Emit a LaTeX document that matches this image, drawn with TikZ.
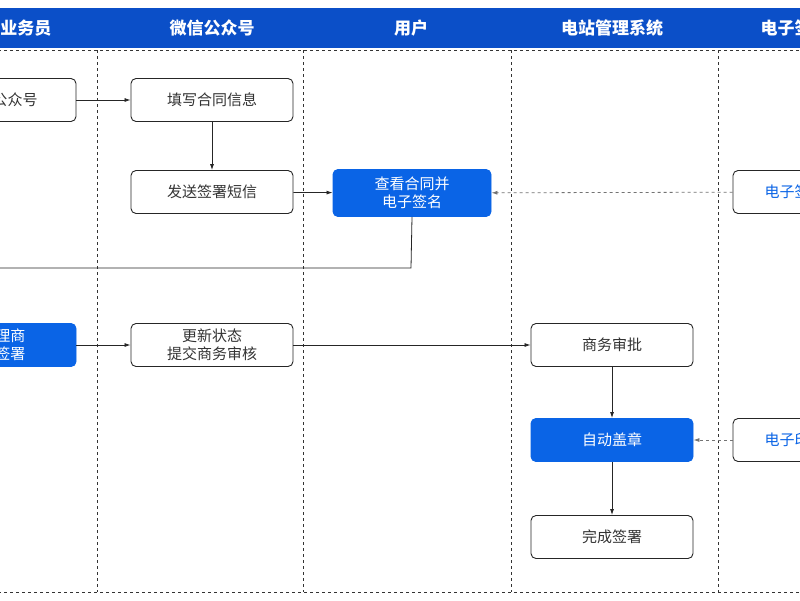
\documentclass[tikz,border=0pt]{standalone}
\usepackage{fontspec}
\setmainfont{Noto Sans CJK SC}
\usetikzlibrary{arrows.meta}
\definecolor{hdr}{HTML}{0B4FC8}
\definecolor{bl}{HTML}{0A64E6}
\definecolor{tx}{HTML}{333333}
\begin{document}
\begin{tikzpicture}[x=1pt,y=-1pt,
 box/.style={draw=black!85,line width=0.9pt,rounded corners=5pt,minimum width=162pt,minimum height=43pt,font=\fontsize{15}{18}\selectfont,text=tx,align=center,inner sep=0pt},
 bbox/.style={box,fill=bl,draw=bl,text=white},
 ar/.style={-{Latex[length=6pt,width=4pt]},line width=0.8pt,black!85},
 dar/.style={ar,dashed,black!55},
 lane/.style={dashed,line width=0.8pt,black!80},
 hd/.style={font=\fontsize{17}{20}\selectfont\bfseries,text=white}]
\useasboundingbox (0,0) rectangle (800,600);
\clip (0,0) rectangle (800,600);
\fill[white] (0,0) rectangle (800,600);
\fill[hdr] (-20,8) rectangle (820,48);
\node[hd] (h1) at (26,28) {业务员};
\node[hd] (h2) at (212,28) {微信公众号};
\node[hd] (h3) at (411,28) {用户};
\node[hd] (h4) at (612,28) {电站管理系统};
\node[hd,anchor=west] (h5) at (757,28) {电子签章平台};
\draw[lane] (-20,50) -- (820,50);
\draw[lane] (-20,592) -- (820,592);
\foreach \x in {97,303,511,718} \draw[lane] (\x,50) -- (\x,592);
\node[box] (a1) at (-5,100) {};
\node[font=\fontsize{15}{18}\selectfont,text=tx] (a1t) at (0,100) {关注公众号};
\node[box] (b1) at (212,100) {填写合同信息};
\node[box] (b2) at (212,192) {发送签署短信};
\node[bbox,minimum width=158pt,minimum height=47pt] (c1) at (412,193) {查看合同并\\电子签名};
\node[box] (e1) at (814,192) {};
\node[font=\fontsize{15}{18}\selectfont,text=bl,anchor=west] (e1t) at (761,192) {电子签章};
\coordinate (t1) at (411,268);
\coordinate (t2) at (-20,268);
\node[bbox] (a2) at (-5,345) {};
\node[font=\fontsize{15}{18}\selectfont,text=white,align=center] (a2t) at (-12,345) {联系代理商\\代理商签署};
\node[box] (b3) at (212,345) {更新状态\\提交商务审核};
\node[box] (d1) at (612,345) {商务审批};
\node[bbox] (d2) at (612,440) {自动盖章};
\node[box] (d3) at (612,537) {完成签署};
\node[box] (e2) at (814,440) {};
\node[font=\fontsize{15}{18}\selectfont,text=bl,anchor=west] (e2t) at (761,440) {电子印章};
\draw[ar] (a1) -- (b1);
\draw[ar] (b1) -- (b2);
\draw[ar] (b2) -- (c1);
\draw[dar] (e1) -- (c1);
\draw[line width=0.8pt,black!85] (c1.south) -- (t1) -- (t2);
\draw[ar] (a2) -- (b3);
\draw[ar] (b3) -- (d1);
\draw[ar] (d1) -- (d2);
\draw[ar] (d2) -- (d3);
\draw[dar] (e2) -- (d2);
\end{tikzpicture}
\end{document}
